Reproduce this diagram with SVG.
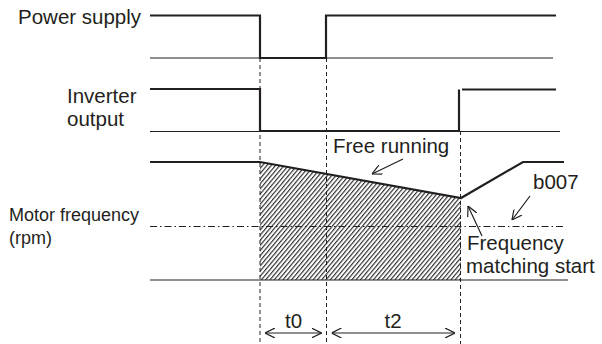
<svg xmlns="http://www.w3.org/2000/svg" width="602" height="344" viewBox="0 0 602 344">
<style>
text{font-family:"Liberation Sans",Arial,sans-serif;fill:#231f20}
.lbl{font-size:20.5px}
.sm{font-size:18px}
.sig{fill:none;stroke:#231f20;stroke-width:2.2}
.base{fill:none;stroke:#231f20;stroke-width:1.2}
.dash{fill:none;stroke:#231f20;stroke-width:1;stroke-dasharray:4 3}
.dd{fill:none;stroke:#231f20;stroke-width:1;stroke-dasharray:7 3 1.5 3}
.ar{fill:none;stroke:#231f20;stroke-width:1.2}
</style>
<defs>
<pattern id="hatch" patternUnits="userSpaceOnUse" width="3.3" height="10" patternTransform="rotate(40)">
<line x1="0.6" y1="0" x2="0.6" y2="10" stroke="#231f20" stroke-width="1.1"/>
</pattern>
<marker id="ah" viewBox="0 0 10 10" refX="10" refY="5" markerWidth="10" markerHeight="10" markerUnits="userSpaceOnUse" orient="auto-start-reverse">
<path d="M0,0 L10,5 L0,10" fill="none" stroke="#231f20" stroke-width="1.2"/>
</marker>
</defs>
<rect width="602" height="344" fill="#fff"/>
<g id="power-supply">
<text class="lbl" x="18" y="24">Power supply</text>
<line class="base" x1="150" y1="58" x2="553" y2="58"/>
<polyline class="sig" points="150,15.5 260,15.5 260,58 326,58 326,15.5 556,15.5"/>
</g>
<g id="inverter-output">
<text class="lbl" x="67" y="103">Inverter</text>
<text class="lbl" x="67" y="126">output</text>
<line class="base" x1="150" y1="131.5" x2="560" y2="131.5"/>
<polyline class="sig" points="150,89 260,89 260,131 459,131 459,89.5"/>
<line class="sig" x1="462" y1="89.5" x2="556" y2="89.5"/>
</g>
<g id="motor-frequency">
<text class="sm" x="9" y="221">Motor frequency</text>
<text class="sm" x="9" y="244">(rpm)</text>
<polygon points="260,162 461,198 461,280 260,280" fill="url(#hatch)"/>
<line class="dd" x1="150" y1="226.5" x2="564" y2="226.5"/>
<line class="base" x1="150" y1="280" x2="568" y2="280"/>
<polyline class="sig" points="150,162 260,162 461,198 523,162 564,162"/>
</g>
<g id="connectors">
<line class="dash" x1="260" y1="58" x2="260" y2="344"/>
<line class="dash" x1="326.5" y1="58" x2="326.5" y2="344"/>
<line class="dash" x1="460.5" y1="131" x2="460.5" y2="344"/>
<line class="ar" x1="403" y1="159" x2="372" y2="174" marker-end="url(#ah)"/>
<line class="ar" x1="530" y1="196" x2="512" y2="220" marker-end="url(#ah)"/>
<line class="ar" x1="482" y1="236" x2="468" y2="206" marker-end="url(#ah)"/>
<line class="ar" x1="265" y1="333" x2="321.5" y2="333" marker-start="url(#ah)" marker-end="url(#ah)"/>
<line class="ar" x1="331.5" y1="333" x2="455" y2="333" marker-start="url(#ah)" marker-end="url(#ah)"/>
</g>
<g id="labels">
<text class="lbl" x="333" y="153">Free running</text>
<text class="lbl" x="533" y="189">b007</text>
<text class="lbl" x="467" y="250">Frequency</text>
<text class="lbl" x="466" y="272.5">matching start</text>
<text class="lbl" x="293.5" y="327.5" text-anchor="middle">t0</text>
<text class="lbl" x="393" y="327.5" text-anchor="middle">t2</text>
</g>
</svg>
